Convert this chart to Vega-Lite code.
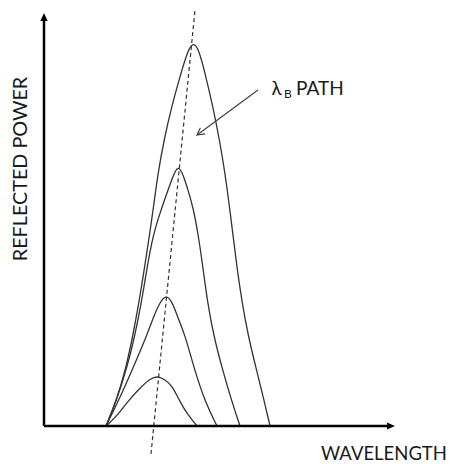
{
  "$schema": "https://vega.github.io/schema/vega-lite/v6.json",
  "width": 452,
  "height": 464,
  "padding": 0,
  "autosize": {"type": "none"},
  "background": "white",
  "config": {"view": {"stroke": null}},
  "datasets": {
    "curves": [
      {"curve": "c4", "w": 62, "p": 0}, {"curve": "c4", "w": 72, "p": 24}, {"curve": "c4", "w": 82, "p": 58}, {"curve": "c4", "w": 89, "p": 91}, {"curve": "c4", "w": 95, "p": 124}, {"curve": "c4", "w": 100.5, "p": 158}, {"curve": "c4", "w": 105.5, "p": 191}, {"curve": "c4", "w": 109.5, "p": 219}, {"curve": "c4", "w": 114, "p": 253}, {"curve": "c4", "w": 120, "p": 286}, {"curve": "c4", "w": 127.5, "p": 319}, {"curve": "c4", "w": 137, "p": 353}, {"curve": "c4", "w": 144, "p": 376}, {"curve": "c4", "w": 149.5, "p": 384}, {"curve": "c4", "w": 155, "p": 376}, {"curve": "c4", "w": 161, "p": 353}, {"curve": "c4", "w": 169, "p": 319}, {"curve": "c4", "w": 175.5, "p": 286}, {"curve": "c4", "w": 181, "p": 253}, {"curve": "c4", "w": 185.5, "p": 219}, {"curve": "c4", "w": 189, "p": 191}, {"curve": "c4", "w": 193, "p": 158}, {"curve": "c4", "w": 198, "p": 124}, {"curve": "c4", "w": 204, "p": 91}, {"curve": "c4", "w": 212, "p": 58}, {"curve": "c4", "w": 220.5, "p": 24}, {"curve": "c4", "w": 226, "p": 0},
      {"curve": "c3", "w": 62, "p": 0}, {"curve": "c3", "w": 72, "p": 24}, {"curve": "c3", "w": 83, "p": 58}, {"curve": "c3", "w": 91, "p": 91}, {"curve": "c3", "w": 97.5, "p": 124}, {"curve": "c3", "w": 103, "p": 158}, {"curve": "c3", "w": 109, "p": 191}, {"curve": "c3", "w": 117, "p": 216}, {"curve": "c3", "w": 123, "p": 233}, {"curve": "c3", "w": 129, "p": 250}, {"curve": "c3", "w": 134, "p": 261}, {"curve": "c3", "w": 139, "p": 252}, {"curve": "c3", "w": 144, "p": 236}, {"curve": "c3", "w": 149, "p": 219}, {"curve": "c3", "w": 154, "p": 193}, {"curve": "c3", "w": 159, "p": 158}, {"curve": "c3", "w": 163.5, "p": 124}, {"curve": "c3", "w": 169.5, "p": 91}, {"curve": "c3", "w": 178, "p": 58}, {"curve": "c3", "w": 188, "p": 24}, {"curve": "c3", "w": 196, "p": 0},
      {"curve": "c2", "w": 62, "p": 0}, {"curve": "c2", "w": 74, "p": 24}, {"curve": "c2", "w": 89, "p": 58}, {"curve": "c2", "w": 103, "p": 91}, {"curve": "c2", "w": 109, "p": 108}, {"curve": "c2", "w": 116, "p": 124}, {"curve": "c2", "w": 122, "p": 131}, {"curve": "c2", "w": 128, "p": 125}, {"curve": "c2", "w": 134, "p": 108}, {"curve": "c2", "w": 141, "p": 91}, {"curve": "c2", "w": 150, "p": 58}, {"curve": "c2", "w": 161, "p": 24}, {"curve": "c2", "w": 173, "p": 0},
      {"curve": "c1", "w": 62, "p": 0}, {"curve": "c1", "w": 74, "p": 11}, {"curve": "c1", "w": 83, "p": 24}, {"curve": "c1", "w": 99, "p": 41}, {"curve": "c1", "w": 106, "p": 47}, {"curve": "c1", "w": 113, "p": 50}, {"curve": "c1", "w": 120, "p": 47}, {"curve": "c1", "w": 128, "p": 41}, {"curve": "c1", "w": 136, "p": 24}, {"curve": "c1", "w": 144, "p": 11}, {"curve": "c1", "w": 153, "p": 0}
    ],
    "bpath": [{"w": 107, "p": -28}, {"w": 151, "p": 416}],
    "pointer": [{"w": 214, "p": 336}, {"w": 153, "p": 291}],
    "pointerTip": [{"w": 153, "p": 291}],
    "axes": [{"w": 0, "p": 0, "w2": 346, "p2": 0}, {"w": 0, "p": 0, "w2": 0, "p2": 408}],
    "xHead": [{"w": 351, "p": 0}],
    "yHead": [{"w": 0, "p": 413}],
    "titleY": [{"w": -23, "p": 257, "label": "REFLECTED POWER"}],
    "titleX": [{"w": 277, "p": -37.5, "label": "WAVELENGTH"}],
    "lambda": [{"w": 227.5, "p": 331, "label": "λ"}, {"w": 252, "p": 331, "label": "PATH"}],
    "sub": [{"w": 240, "p": 328, "label": "B"}]
  },
  "layer": [
    {
      "data": {"name": "curves"},
      "mark": {"type": "line", "interpolate": "basis", "stroke": "#333333", "strokeWidth": 1.3},
      "encoding": {
        "x": {"field": "w", "type": "quantitative", "scale": {"domain": [-44, 408], "nice": false, "zero": false}, "axis": null},
        "y": {"field": "p", "type": "quantitative", "scale": {"domain": [-38, 426], "nice": false, "zero": false}, "axis": null},
        "detail": {"field": "curve"},
        "order": {"field": "w"}
      }
    },
    {
      "data": {"name": "bpath"},
      "mark": {"type": "line", "stroke": "#333333", "strokeWidth": 1.2, "strokeDash": [4, 3]},
      "encoding": {
        "x": {"field": "w", "type": "quantitative"},
        "y": {"field": "p", "type": "quantitative"}
      }
    },
    {
      "data": {"name": "pointer"},
      "mark": {"type": "line", "stroke": "#444444", "strokeWidth": 1.2},
      "encoding": {
        "x": {"field": "w", "type": "quantitative"},
        "y": {"field": "p", "type": "quantitative"}
      }
    },
    {
      "data": {"name": "pointerTip"},
      "mark": {"type": "point", "shape": "M -1 -0.55 L 0 0 L -1 0.55", "filled": false, "stroke": "#444444", "strokeWidth": 1.2, "size": 200, "angle": 143.6, "opacity": 1},
      "encoding": {
        "x": {"field": "w", "type": "quantitative"},
        "y": {"field": "p", "type": "quantitative"}
      }
    },
    {
      "data": {"name": "axes"},
      "mark": {"type": "rule", "stroke": "#000000", "strokeWidth": 2.5},
      "encoding": {
        "x": {"field": "w", "type": "quantitative"},
        "y": {"field": "p", "type": "quantitative"},
        "x2": {"field": "w2"},
        "y2": {"field": "p2"}
      }
    },
    {
      "data": {"name": "xHead"},
      "mark": {"type": "point", "shape": "M 0 0 L -1 -0.45 L -1 0.45 Z", "filled": true, "fill": "#000000", "size": 256, "opacity": 1},
      "encoding": {
        "x": {"field": "w", "type": "quantitative"},
        "y": {"field": "p", "type": "quantitative"}
      }
    },
    {
      "data": {"name": "yHead"},
      "mark": {"type": "point", "shape": "M 0 0 L -0.45 1 L 0.45 1 Z", "filled": true, "fill": "#000000", "size": 256, "opacity": 1},
      "encoding": {
        "x": {"field": "w", "type": "quantitative"},
        "y": {"field": "p", "type": "quantitative"}
      }
    },
    {
      "data": {"name": "titleY"},
      "mark": {"type": "text", "font": "Lato", "fontSize": 19.8, "angle": 270, "align": "center", "baseline": "middle", "fill": "#1a1a1a"},
      "encoding": {
        "x": {"field": "w", "type": "quantitative"},
        "y": {"field": "p", "type": "quantitative"},
        "text": {"field": "label"}
      }
    },
    {
      "data": {"name": "titleX"},
      "mark": {"type": "text", "font": "Lato", "fontSize": 18.5, "align": "left", "baseline": "bottom", "fill": "#1a1a1a"},
      "encoding": {
        "x": {"field": "w", "type": "quantitative"},
        "y": {"field": "p", "type": "quantitative"},
        "text": {"field": "label"}
      }
    },
    {
      "data": {"name": "lambda"},
      "mark": {"type": "text", "font": "Lato", "fontSize": 19, "align": "left", "baseline": "alphabetic", "fill": "#1a1a1a"},
      "encoding": {
        "x": {"field": "w", "type": "quantitative"},
        "y": {"field": "p", "type": "quantitative"},
        "text": {"field": "label"}
      }
    },
    {
      "data": {"name": "sub"},
      "mark": {"type": "text", "font": "Lato", "fontSize": 12, "align": "left", "baseline": "alphabetic", "fill": "#1a1a1a"},
      "encoding": {
        "x": {"field": "w", "type": "quantitative"},
        "y": {"field": "p", "type": "quantitative"},
        "text": {"field": "label"}
      }
    }
  ]
}
